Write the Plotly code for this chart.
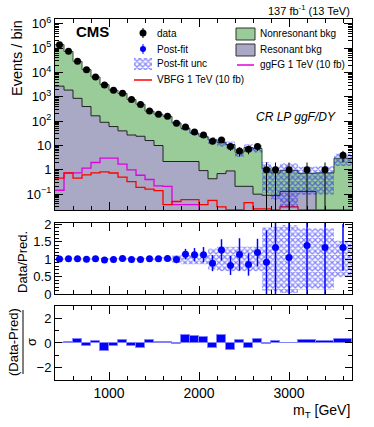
import numpy as np
import plotly.graph_objects as go

# m_T binning in GeV: 100 GeV bins up to 2900, then 200 GeV bins
bin_edges = list(range(400, 3000, 100)) + [3100, 3300, 3500, 3700]

# observed events per bin
data = [140000, 74000, 29000, 13000, 6600, 3100, 1850, 1400, 770, 490, 263, 194, 160, 83,
        57, 36, 27, 15, 17, 9, 6, 7, 9, 1, 1, 1, 1, 1, 4]
# post-fit backgrounds
nonresonant = [137050, 71700, 27830, 12700, 6390, 3090, 1810, 1340, 753, 471, 244, 182, 155.8, 81.8,
               47.8, 29.8, 23.07, 16.57, 12.8, 10.1, 5.09, 8.09, 7.5, 1.01, 0.66, 0.83, 0.59, 0.74, 2.99]
resonant = [2750, 1900, 870, 400, 166, 90, 60, 40, 27, 24, 16, 10, 2.2, 2.2,
            2.2, 2.2, 0.93, 0.43, 0.7, 0.9, 0.21, 0.21, 0.1, 0.09, 0.09, 0.13, 0.13, 0.01, 0.01]
# signals, 1 TeV, 10 fb
ggf_1tev = [0.145, 0.75, 0.75, 1.17, 2.0, 3.0, 3.0, 1.7, 1.0, 0.6, 0.4, 0.22, 0.21, 0.037,
            0.037, 0.037, 0.001, 0.001, 0.001, 0.001, 0.001, 0.001, 0.001, 0.001, 0.001, 0.001, 0.001, 0.001, 0.001]
vbf_1tev = [0.46, 0.74, 0.46, 0.62, 0.75, 0.82, 0.74, 0.5, 0.33, 0.19, 0.16, 0.14, 0.037, 0.05,
            0.06, 0.06, 0.037, 0.055, 0.03, 0.0225, 0.0225, 0.045, 0.025, 0.025, 0.0225, 0.03, 0.0225, 0.0225, 0.0225]
# relative post-fit uncertainty
rel_unc = [0.02, 0.02, 0.02, 0.02, 0.02, 0.02, 0.02, 0.03, 0.03, 0.03, 0.03, 0.05, 0.05, 0.1,
           0.15, 0.15, 0.15, 0.3, 0.35, 0.35, 0.35, 0.35, 0.35, 0.9, 0.92, 0.97, 0.87, 0.87, 0.52]
# (data - pred) / sigma
pull = [-0.03, 0.08, 0.3, -0.25, 0.16, -0.68, -0.27, 0.27, -0.25, -0.4, 0.22, 0.08, 0.08, -0.1,
        0.68, 0.55, 0.5, -0.4, 0.63, -0.55, 0.22, -0.4, 0.33, -0.1, 0.2, 0.02, 0.22, 0.17, 0.35]

FONT = "Liberation Sans, Arial, Helvetica, sans-serif"
GREEN = "#99cc99"
PURPLE = "#a9a9c6"

edges = np.array(bin_edges, dtype=float)
centers = 0.5 * (edges[1:] + edges[:-1])
widths = edges[1:] - edges[:-1]
data = np.array(data, dtype=float)
res = np.array(resonant)
pred = np.array(nonresonant) + res
unc = np.array(rel_unc)


def steps(vals):
    vals = list(vals)
    return list(edges), vals + [vals[-1]]


fig = go.Figure()

# stacked backgrounds
x, y = steps(pred)
fig.add_trace(go.Scatter(x=x, y=y, mode="lines", line_shape="hv", fill="tozeroy",
                         fillcolor=GREEN, line=dict(color="#2f4f2f", width=1)))
x, y = steps(res)
fig.add_trace(go.Scatter(x=x, y=y, mode="lines", line_shape="hv", fill="tozeroy",
                         fillcolor=PURPLE, line=dict(color="#222222", width=1)))

# signals
x, y = steps(ggf_1tev)
fig.add_trace(go.Scatter(x=x, y=y, mode="lines", line_shape="hv", line=dict(color="#e000e0", width=1.3)))
x, y = steps(vbf_1tev)
fig.add_trace(go.Scatter(x=x, y=y, mode="lines", line_shape="hv", line=dict(color="#ff0000", width=1.3)))

hatch = dict(shape="x", fgcolor="rgba(0,0,255,0.95)", size=4, solidity=0.55)

# post-fit uncertainty band (main)
x, y = steps(pred * (1 + unc))
fig.add_trace(go.Scatter(x=x, y=y, mode="lines", line_shape="hv", line=dict(width=0)))
x, y = steps(np.maximum(pred * (1 - unc), 1e-3))
fig.add_trace(go.Scatter(x=x, y=y, mode="lines", line_shape="hv", line=dict(width=0),
                         fill="tonexty", fillcolor="rgba(0,0,0,0)", fillpattern=hatch))

# data
err = np.sqrt(data)
fig.add_trace(go.Scatter(x=centers, y=data, mode="markers",
                         marker=dict(color="black", size=7),
                         error_y=dict(type="data", array=err, arrayminus=np.minimum(err, data * 0.999),
                                      color="black", thickness=1, width=0)))

# ratio panel
x, y = steps(1 + unc)
fig.add_trace(go.Scatter(x=x, y=y, mode="lines", line_shape="hv", line=dict(width=0),
                         xaxis="x2", yaxis="y2"))
x, y = steps(1 - unc)
fig.add_trace(go.Scatter(x=x, y=y, mode="lines", line_shape="hv", line=dict(width=0),
                         fill="tonexty", fillcolor="rgba(0,0,0,0)", fillpattern=hatch,
                         xaxis="x2", yaxis="y2"))
fig.add_trace(go.Scatter(x=centers, y=data / pred, mode="markers", xaxis="x2", yaxis="y2",
                         marker=dict(color="blue", size=7),
                         error_y=dict(type="data", array=err / pred, color="blue", thickness=1.5, width=0)))

# pull panel
fig.add_trace(go.Bar(x=centers, y=pull, width=widths, xaxis="x3", yaxis="y3",
                     marker=dict(color="blue", line=dict(color="rgb(130,130,255)", width=1))))

# legend drawn in pixel coordinates on an overlay axis
L = dict(xaxis="x4", yaxis="y4", showlegend=False, hoverinfo="skip")
fig.add_trace(go.Scatter(x=[143], y=[33], mode="markers", marker=dict(color="black", size=7),
                         error_y=dict(type="constant", value=5, color="black", thickness=1, width=0), **L))
fig.add_trace(go.Scatter(x=[143], y=[49], mode="markers", marker=dict(color="blue", size=6),
                         error_y=dict(type="constant", value=5, color="blue", thickness=1, width=0), **L))
fig.add_trace(go.Scatter(x=[134, 152, 152, 134, 134], y=[58, 58, 70, 70, 58], mode="lines",
                         line=dict(width=0), fill="toself", fillcolor="rgba(0,0,0,0)", fillpattern=hatch, **L))
fig.add_trace(go.Scatter(x=[134, 152], y=[80, 80], mode="lines", line=dict(color="red", width=1.5), **L))
fig.add_trace(go.Scatter(x=[236, 255, 255, 236, 236], y=[28, 28, 40, 40, 28], mode="lines",
                         line=dict(color="#333", width=1), fill="toself", fillcolor=GREEN, **L))
fig.add_trace(go.Scatter(x=[236, 255, 255, 236, 236], y=[44, 44, 56, 56, 44], mode="lines",
                         line=dict(color="#333", width=1), fill="toself", fillcolor=PURPLE, **L))
fig.add_trace(go.Scatter(x=[237, 254], y=[65, 65], mode="lines", line=dict(color="#e000e0", width=1.5), **L))

ann = []
for tx, xp, yp in [("data", 155, 33), ("Post-fit", 155, 49), ("Post-fit unc", 155, 64),
                   ("VBFG 1 TeV (10 fb)", 155, 80), ("Nonresonant bkg", 258, 33),
                   ("Resonant bkg", 258, 49), ("ggFG 1 TeV (10 fb)", 258, 65)]:
    ann.append(dict(text=tx, x=xp, y=yp, xref="x4", yref="y4", xanchor="left", yanchor="middle",
                    showarrow=False, font=dict(size=10, color="black")))


def px(xp):
    return (xp - 55) / 297.0


def py(yp):
    return (380 - yp) / 361.0


ann += [
    dict(text="<b>CMS</b>", x=px(74), y=py(32), xanchor="left", font=dict(size=15)),
    dict(text="137 fb<sup>-1</sup> (13 TeV)", x=1, y=py(10), xanchor="right", font=dict(size=11)),
    dict(text="<i>CR LP ggF/DY</i>", x=px(338), y=py(117), xanchor="right", font=dict(size=12)),
    dict(text="Events / bin", x=px(17), y=py(58), textangle=-90, font=dict(size=14.5)),
    dict(text="Data/Pred.", x=px(22), y=py(262), textangle=-90, font=dict(size=13)),
    dict(text="(Data-Pred)", x=px(13), y=py(342), textangle=-90, font=dict(size=13)),
    dict(text="σ", x=px(31), y=py(342), textangle=-90, font=dict(size=13)),
    dict(text="m<sub>T</sub> [GeV]", x=1, y=py(411), xanchor="right", font=dict(size=14)),
]
for a in ann[-8:]:
    a.update(xref="paper", yref="paper", showarrow=False, yanchor="middle")
    a.setdefault("xanchor", "center")
    a["font"].update(color="black")

shapes = [dict(type="line", xref="paper", yref="paper", x0=px(23), x1=px(23), y0=py(310), y1=py(374),
               line=dict(color="black", width=1))]

axis_common = dict(showline=True, linecolor="black", linewidth=1, mirror="ticks", ticks="inside",
                   showgrid=False, zeroline=False, tickcolor="black", tickfont=dict(size=13, color="black"))
xcommon = dict(axis_common, range=[400, 3700], tickvals=[1000, 2000, 3000], ticklen=8,
               tickfont=dict(size=14, color="black"),
               minor=dict(dtick=200, tick0=400, ticklen=4, ticks="inside", tickcolor="black"))

log_minor = [k * 10.0 ** d for d in range(-2, 7) for k in range(2, 10)]

fig.update_layout(
    width=374, height=427,
    margin=dict(l=55, r=22, t=19, b=47),
    paper_bgcolor="white", plot_bgcolor="white",
    font=dict(family=FONT, color="black"),
    showlegend=False, bargap=0,
    xaxis=dict(xcommon, anchor="y", domain=[0, 1], showticklabels=False),
    yaxis=dict(axis_common, type="log", domain=[0.471, 1], anchor="x", range=[-1.65, 6.2],
               tickvals=[0.1, 1, 10, 100, 1e3, 1e4, 1e5, 1e6],
               ticktext=["10<sup>\u22121</sup>", "1", "10", "10<sup>2</sup>", "10<sup>3</sup>",
                         "10<sup>4</sup>", "10<sup>5</sup>", "10<sup>6</sup>"],
               ticklen=8, minor=dict(tickvals=log_minor, ticklen=4, ticks="inside", tickcolor="black")),
    xaxis2=dict(xcommon, anchor="y2", matches="x", showticklabels=False),
    yaxis2=dict(axis_common, domain=[0.238, 0.435], anchor="x2", range=[0, 2.03],
                tickvals=[0, 0.5, 1, 1.5, 2], ticktext=["0", "0.5", "1", "1.5", "2"], ticklen=7,
                minor=dict(dtick=0.1, ticklen=4, ticks="inside", tickcolor="black")),
    xaxis3=dict(xcommon, anchor="y3", matches="x"),
    yaxis3=dict(axis_common, domain=[0, 0.205], anchor="x3", range=[-3, 3],
                tickvals=[-2, 0, 2], ticktext=["\u22122", "0", "2"], ticklen=7,
                minor=dict(dtick=1, tick0=-3, ticklen=4, ticks="inside", tickcolor="black")),
    xaxis4=dict(overlaying="x", anchor="y4", range=[55, 352], visible=False),
    yaxis4=dict(overlaying="y", anchor="x4", range=[210, 19], visible=False),
    annotations=ann,
    shapes=shapes,
)
for tr in fig.data:
    tr.showlegend = False

# drop the default page margin so the figure sits at the window's corner
fig.write_html("out.html", config={"displayModeBar": False},
               post_script="document.body.style.margin='0px';")
